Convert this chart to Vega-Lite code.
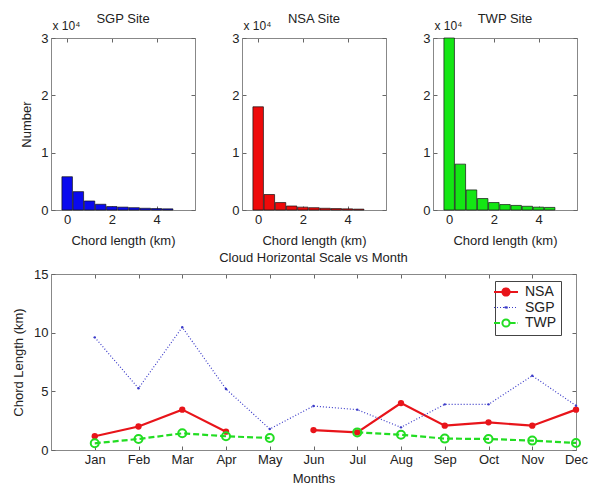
{
  "$schema": "https://vega.github.io/schema/vega-lite/v6.json",
  "padding": {"left": 12, "top": 12, "right": 5, "bottom": 0},
  "background": "white",
  "datasets": {
    "hist": [
      {"site": "SGP", "chord": 0, "count": 5800}, {"site": "SGP", "chord": 0.5, "count": 3200}, {"site": "SGP", "chord": 1, "count": 1570}, {"site": "SGP", "chord": 1.5, "count": 1000}, {"site": "SGP", "chord": 2, "count": 600}, {"site": "SGP", "chord": 2.5, "count": 500}, {"site": "SGP", "chord": 3, "count": 400}, {"site": "SGP", "chord": 3.5, "count": 300}, {"site": "SGP", "chord": 4, "count": 250}, {"site": "SGP", "chord": 4.5, "count": 200},
      {"site": "NSA", "chord": 0, "count": 18000}, {"site": "NSA", "chord": 0.5, "count": 2700}, {"site": "NSA", "chord": 1, "count": 1300}, {"site": "NSA", "chord": 1.5, "count": 700}, {"site": "NSA", "chord": 2, "count": 500}, {"site": "NSA", "chord": 2.5, "count": 400}, {"site": "NSA", "chord": 3, "count": 300}, {"site": "NSA", "chord": 3.5, "count": 250}, {"site": "NSA", "chord": 4, "count": 200}, {"site": "NSA", "chord": 4.5, "count": 150},
      {"site": "TWP", "chord": 0, "count": 30000}, {"site": "TWP", "chord": 0.5, "count": 8000}, {"site": "TWP", "chord": 1, "count": 3500}, {"site": "TWP", "chord": 1.5, "count": 2000}, {"site": "TWP", "chord": 2, "count": 1300}, {"site": "TWP", "chord": 2.5, "count": 950}, {"site": "TWP", "chord": 3, "count": 800}, {"site": "TWP", "chord": 3.5, "count": 650}, {"site": "TWP", "chord": 4, "count": 500}, {"site": "TWP", "chord": 4.5, "count": 450}
    ],
    "monthly": [
      {"site": "NSA", "month": 1, "value": 1.17}, {"site": "NSA", "month": 2, "value": 2.0}, {"site": "NSA", "month": 3, "value": 3.44}, {"site": "NSA", "month": 4, "value": 1.56}, {"site": "NSA", "month": 5, "value": null}, {"site": "NSA", "month": 6, "value": 1.7}, {"site": "NSA", "month": 7, "value": 1.5}, {"site": "NSA", "month": 8, "value": 4.0}, {"site": "NSA", "month": 9, "value": 2.07}, {"site": "NSA", "month": 10, "value": 2.36}, {"site": "NSA", "month": 11, "value": 2.07}, {"site": "NSA", "month": 12, "value": 3.44},
      {"site": "SGP", "month": 1, "value": 9.6}, {"site": "SGP", "month": 2, "value": 5.26}, {"site": "SGP", "month": 3, "value": 10.46}, {"site": "SGP", "month": 4, "value": 5.2}, {"site": "SGP", "month": 5, "value": 1.79}, {"site": "SGP", "month": 6, "value": 3.75}, {"site": "SGP", "month": 7, "value": 3.44}, {"site": "SGP", "month": 8, "value": 1.93}, {"site": "SGP", "month": 9, "value": 3.89}, {"site": "SGP", "month": 10, "value": 3.89}, {"site": "SGP", "month": 11, "value": 6.33}, {"site": "SGP", "month": 12, "value": 3.78},
      {"site": "TWP", "month": 1, "value": 0.57}, {"site": "TWP", "month": 2, "value": 0.94}, {"site": "TWP", "month": 3, "value": 1.42}, {"site": "TWP", "month": 4, "value": 1.17}, {"site": "TWP", "month": 5, "value": 1.02}, {"site": "TWP", "month": 6, "value": null}, {"site": "TWP", "month": 7, "value": 1.5}, {"site": "TWP", "month": 8, "value": 1.3}, {"site": "TWP", "month": 9, "value": 0.97}, {"site": "TWP", "month": 10, "value": 0.94}, {"site": "TWP", "month": 11, "value": 0.8}, {"site": "TWP", "month": 12, "value": 0.6}
    ]
  },
  "vconcat": [
    {
      "hconcat": [
        {
          "width": 144, "height": 172,
          "title": {"text": "SGP Site", "offset": -7},
          "data": {"name": "hist"},
          "transform": [{"filter": {"field": "site", "equal": "SGP"}}],
          "layer": [
            {
              "mark": {"type": "bar", "width": 10.5, "fill": "#0a0aee", "stroke": "#111", "strokeWidth": 0.7},
              "encoding": {
                "x": {"field": "chord", "type": "quantitative", "scale": {"domain": [-0.5, 5.5], "nice": false, "zero": false}, "axis": {"values": [0, 2, 4], "title": "Chord length (km)", "titlePadding": 8}},
                "y": {"field": "count", "type": "quantitative", "scale": {"domain": [0, 30000], "nice": false}, "axis": {"values": [0, 10000, 20000, 30000], "labelExpr": "datum.value/10000", "title": "Number", "titlePadding": 7}}
              }
            },
            {
              "mark": {"type": "point", "opacity": 0},
              "encoding": {
                "x": {"field": "chord", "type": "quantitative", "scale": {"domain": [-0.5, 5.5], "nice": false, "zero": false}, "axis": {"orient": "top", "values": [0, 2, 4], "labels": false, "title": "x 10⁴", "titleFontSize": 12, "titleX": 1, "titleY": -9, "titleAlign": "left", "titleBaseline": "alphabetic"}},
                "y": {"field": "count", "type": "quantitative", "scale": {"domain": [0, 30000], "nice": false}, "axis": {"orient": "right", "values": [0, 10000, 20000, 30000], "labels": false, "title": null}}
              }
            }
          ],
          "resolve": {"axis": {"x": "independent", "y": "independent"}}
        },
        {
          "width": 144, "height": 172,
          "title": {"text": "NSA Site", "offset": -7},
          "data": {"name": "hist"},
          "transform": [{"filter": {"field": "site", "equal": "NSA"}}],
          "layer": [
            {
              "mark": {"type": "bar", "width": 10.5, "fill": "#ee0a0a", "stroke": "#111", "strokeWidth": 0.7},
              "encoding": {
                "x": {"field": "chord", "type": "quantitative", "scale": {"domain": [-0.5, 5.5], "nice": false, "zero": false}, "axis": {"values": [0, 2, 4], "title": "Chord length (km)", "titlePadding": 8}},
                "y": {"field": "count", "type": "quantitative", "scale": {"domain": [0, 30000], "nice": false}, "axis": {"values": [0, 10000, 20000, 30000], "labelExpr": "datum.value/10000", "title": null}}
              }
            },
            {
              "mark": {"type": "point", "opacity": 0},
              "encoding": {
                "x": {"field": "chord", "type": "quantitative", "scale": {"domain": [-0.5, 5.5], "nice": false, "zero": false}, "axis": {"orient": "top", "values": [0, 2, 4], "labels": false, "title": "x 10⁴", "titleFontSize": 12, "titleX": 1, "titleY": -9, "titleAlign": "left", "titleBaseline": "alphabetic"}},
                "y": {"field": "count", "type": "quantitative", "scale": {"domain": [0, 30000], "nice": false}, "axis": {"orient": "right", "values": [0, 10000, 20000, 30000], "labels": false, "title": null}}
              }
            }
          ],
          "resolve": {"axis": {"x": "independent", "y": "independent"}}
        },
        {
          "width": 144, "height": 172,
          "title": {"text": "TWP Site", "offset": -7},
          "data": {"name": "hist"},
          "transform": [{"filter": {"field": "site", "equal": "TWP"}}],
          "layer": [
            {
              "mark": {"type": "bar", "width": 10.5, "fill": "#14e614", "stroke": "#111", "strokeWidth": 0.7},
              "encoding": {
                "x": {"field": "chord", "type": "quantitative", "scale": {"domain": [-0.5, 5.5], "nice": false, "zero": false}, "axis": {"values": [0, 2, 4], "title": "Chord length (km)", "titlePadding": 8}},
                "y": {"field": "count", "type": "quantitative", "scale": {"domain": [0, 30000], "nice": false}, "axis": {"values": [0, 10000, 20000, 30000], "labelExpr": "datum.value/10000", "title": null}}
              }
            },
            {
              "mark": {"type": "point", "opacity": 0},
              "encoding": {
                "x": {"field": "chord", "type": "quantitative", "scale": {"domain": [-0.5, 5.5], "nice": false, "zero": false}, "axis": {"orient": "top", "values": [0, 2, 4], "labels": false, "title": "x 10⁴", "titleFontSize": 12, "titleX": 1, "titleY": -9, "titleAlign": "left", "titleBaseline": "alphabetic"}},
                "y": {"field": "count", "type": "quantitative", "scale": {"domain": [0, 30000], "nice": false}, "axis": {"orient": "right", "values": [0, 10000, 20000, 30000], "labels": false, "title": null}}
              }
            }
          ],
          "resolve": {"axis": {"x": "independent", "y": "independent"}}
        }
      ],
      "spacing": 47,
      "bounds": "flush"
    },
    {
      "width": 525, "height": 176,
      "title": {"text": "Cloud Horizontal Scale vs Month", "offset": 3},
      "data": {"name": "monthly"},
      "layer": [
        {
          "encoding": {
            "x": {"field": "month", "type": "quantitative", "scale": {"domain": [0, 12], "nice": false, "zero": false}, "axis": {"values": [1, 2, 3, 4, 5, 6, 7, 8, 9, 10, 11, 12], "labelExpr": "['','Jan','Feb','Mar','Apr','May','Jun','Jul','Aug','Sep','Oct','Nov','Dec'][datum.value]", "title": "Months", "titlePadding": 6}},
            "y": {"field": "value", "type": "quantitative", "scale": {"domain": [0, 15], "nice": false}, "axis": {"values": [0, 5, 10, 15], "title": "Chord Length (km)", "titlePadding": 8}}
          },
          "layer": [
            {
              "transform": [{"filter": {"field": "site", "equal": "NSA"}}],
              "mark": {"type": "line", "strokeWidth": 2.2, "invalid": "break-paths-show-domains"},
              "encoding": {
                "color": {
                  "field": "site", "type": "nominal",
                  "scale": {"domain": ["NSA", "SGP", "TWP"], "range": ["#e8141a", "#3a3ac8", "#22dd22"]},
                  "legend": {
                    "title": null, "orient": "none", "legendX": 444, "legendY": 243, "padding": 4,
                    "strokeColor": "#444", "fillColor": "white",
                    "labelFontSize": 14, "labelColor": "#222", "labelOffset": 12, "rowPadding": 0.5,
                    "labelExpr": "datum.label + '\u00a0\u00a0\u00a0\u00a0'",
                    "symbolSize": 576,
                    "symbolType": "M-1,0H1M0.3,0A0.3,0.3,0,1,1,-0.3,0A0.3,0.3,0,1,1,0.3,0",
                    "encode": {
                      "symbols": {
                        "update": {
                          "shape": {"signal": "datum.value === 'SGP' ? 'M-1,0H1M0.1,0A0.1,0.1,0,1,1,-0.1,0A0.1,0.1,0,1,1,0.1,0' : datum.value === 'TWP' ? 'M-1,0H-0.3A0.3,0.3,0,1,1,0.3,0A0.3,0.3,0,1,1,-0.3,0M0.3,0H1' : 'M-1,0H1M0.3,0A0.3,0.3,0,1,1,-0.3,0A0.3,0.3,0,1,1,0.3,0'"},
                          "fill": {"signal": "datum.value === 'NSA' ? '#e8141a' : datum.value === 'SGP' ? '#3a3ac8' : 'transparent'"},
                          "strokeDash": {"signal": "datum.value === 'SGP' ? [1, 2] : datum.value === 'TWP' ? [6, 2, 30, 0] : [1, 0]"},
                          "strokeWidth": {"signal": "datum.value === 'SGP' ? 1.2 : 2"}
                        }
                      }
                    }
                  }
                }
              }
            },
            {
              "transform": [{"filter": {"field": "site", "equal": "SGP"}}],
              "mark": {"type": "line", "strokeWidth": 1.2, "strokeDash": [1, 2], "invalid": "break-paths-show-domains"},
              "encoding": {
                "color": {"field": "site", "type": "nominal", "scale": {"domain": ["NSA", "SGP", "TWP"], "range": ["#e8141a", "#3a3ac8", "#22dd22"]}}
              }
            },
            {
              "transform": [{"filter": {"field": "site", "equal": "TWP"}}],
              "mark": {"type": "line", "strokeWidth": 2.2, "strokeDash": [6, 3], "invalid": "break-paths-show-domains"},
              "encoding": {
                "color": {"field": "site", "type": "nominal", "scale": {"domain": ["NSA", "SGP", "TWP"], "range": ["#e8141a", "#3a3ac8", "#22dd22"]}}
              }
            },
            {
              "transform": [{"filter": {"field": "site", "equal": "NSA"}}],
              "mark": {"type": "point", "filled": true, "size": 40, "color": "#e8141a", "opacity": 1}
            },
            {
              "transform": [{"filter": {"field": "site", "equal": "SGP"}}],
              "mark": {"type": "point", "filled": true, "size": 6, "color": "#3a3ac8", "opacity": 1}
            },
            {
              "transform": [{"filter": {"field": "site", "equal": "TWP"}}],
              "mark": {"type": "point", "filled": false, "size": 64, "strokeWidth": 2, "color": "#22dd22", "opacity": 1}
            }
          ]
        },
        {
          "mark": {"type": "point", "opacity": 0},
          "encoding": {
            "x": {"field": "month", "type": "quantitative", "scale": {"domain": [0, 12], "nice": false, "zero": false}, "axis": {"orient": "top", "values": [1, 2, 3, 4, 5, 6, 7, 8, 9, 10, 11, 12], "labels": false, "title": null}},
            "y": {"field": "value", "type": "quantitative", "scale": {"domain": [0, 15], "nice": false}, "axis": {"orient": "right", "values": [0, 5, 10, 15], "labels": false, "title": null}}
          }
        }
      ],
      "resolve": {"axis": {"x": "independent", "y": "independent"}}
    }
  ],
  "spacing": 3,
  "config": {
    "font": "Liberation Sans",
    "view": {"stroke": "#888"},
    "axis": {"grid": false, "labelFontSize": 13, "titleFontSize": 13, "titleFontWeight": "normal", "labelColor": "#222", "titleColor": "#222", "domainColor": "#888", "tickColor": "#666", "tickSize": -4, "labelPadding": 7, "labelFlush": false, "labelOverlap": false},
    "title": {"fontSize": 13, "fontWeight": "normal", "color": "#222"}
  }
}
